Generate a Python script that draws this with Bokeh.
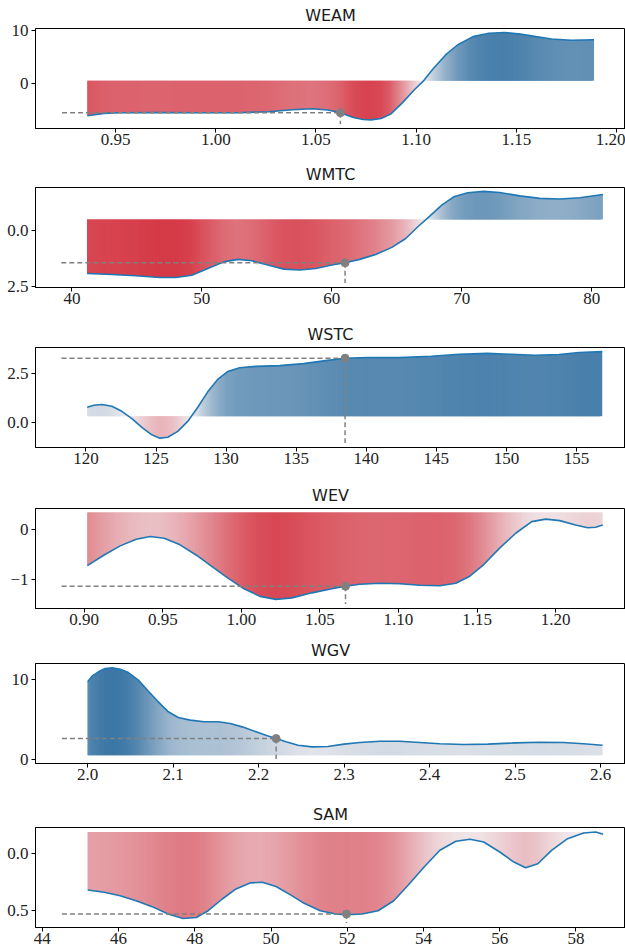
import numpy as np
from bokeh.plotting import figure
from bokeh.layouts import column
from bokeh.models import Range1d, FixedTicker, ColumnDataSource
from bokeh.embed import file_html
from bokeh.resources import INLINE

# ---------------- data ----------------
titles = ["WEAM", "WMTC", "WSTC", "WEV", "WGV", "SAM"]

weam_x = [0.9359, 0.9441, 0.952, 0.9716, 0.9912, 1.0108, 1.0265, 1.0382, 1.048, 1.0559, 1.0622, 1.0686,
          1.0735, 1.0775, 1.0825, 1.0873, 1.0931, 1.099, 1.1039, 1.1088, 1.1147, 1.1206, 1.1284, 1.1363,
          1.1441, 1.152, 1.1598, 1.1676, 1.1775, 1.1888]
weam_y = [-6.22, -5.77, -5.64, -5.58, -5.64, -5.64, -5.45, -5.06, -4.87, -5.13, -5.64, -6.54,
          -6.92, -7.0, -6.75, -5.9, -3.75, -1.3, 0.55, 2.9, 5.4, 7.3, 8.9, 9.55,
          9.68, 9.4, 8.9, 8.45, 8.2, 8.3]

wmtc_x = [41.17, 43.08, 44.92, 46.77, 48.0, 49.23, 50.46, 51.69, 52.77, 53.85, 55.08, 56.31, 57.54, 58.77,
          60.0, 61.02, 62.15, 63.38, 64.62, 65.69, 66.62, 67.54, 68.46, 69.38, 70.46, 71.69, 72.92, 74.46,
          76.0, 77.54, 79.08, 80.86]
wmtc_y = [-1.91, -1.96, -2.01, -2.09, -2.09, -1.99, -1.69, -1.40, -1.29, -1.35, -1.54, -1.72, -1.76, -1.69,
          -1.54, -1.44, -1.29, -1.07, -0.76, -0.37, 0.15, 0.62, 1.10, 1.47, 1.65, 1.71, 1.66, 1.51,
          1.40, 1.37, 1.43, 1.57]

wstc_x = [120.09, 120.57, 121.14, 121.85, 122.56, 123.28, 123.99, 124.70, 125.27, 125.84, 126.55, 127.26,
          127.98, 128.69, 129.40, 130.11, 130.97, 132.11, 133.82, 135.53, 137.24, 138.49, 140.09, 142.36,
          144.64, 146.64, 148.63, 150.34, 152.05, 153.76, 155.19, 156.84]
wstc_y = [0.76, 0.86, 0.90, 0.81, 0.55, 0.17, -0.28, -0.66, -0.83, -0.78, -0.48, 0.03,
          0.76, 1.55, 2.19, 2.59, 2.79, 2.86, 2.90, 3.0, 3.17, 3.28, 3.31, 3.31,
          3.38, 3.48, 3.53, 3.48, 3.43, 3.47, 3.57, 3.62]

wev_x = [0.902, 0.9127, 0.9229, 0.9331, 0.942, 0.9509, 0.961, 0.9712, 0.9814, 0.9915, 1.0017, 1.0119,
         1.022, 1.0322, 1.0449, 1.0576, 1.0663, 1.0754, 1.0882, 1.1009, 1.1136, 1.1263, 1.1365, 1.1454,
         1.1543, 1.1644, 1.1746, 1.1848, 1.1937, 1.2026, 1.2127, 1.2204, 1.2255, 1.23]
wev_y = [-0.72, -0.51, -0.33, -0.20, -0.145, -0.18, -0.31, -0.51, -0.74, -0.97, -1.18, -1.33,
         -1.39, -1.36, -1.26, -1.18, -1.13, -1.09, -1.07, -1.08, -1.11, -1.12, -1.07, -0.93,
         -0.70, -0.375, -0.08, 0.15, 0.20, 0.17, 0.085, 0.03, 0.04, 0.085]

wgv_x = [2.0, 2.0056, 2.0126, 2.0205, 2.0289, 2.0383, 2.0476, 2.0593, 2.071, 2.0826, 2.0943, 2.106,
         2.12, 2.1363, 2.1527, 2.1667, 2.1807, 2.197, 2.2101, 2.2204, 2.232, 2.246, 2.2624, 2.281,
         2.2997, 2.3184, 2.3417, 2.3651, 2.3884, 2.4118, 2.4398, 2.4678, 2.5005, 2.5285, 2.5565,
         2.5798, 2.6022]
wgv_y = [9.67, 10.42, 10.92, 11.33, 11.42, 11.25, 10.83, 9.88, 8.5, 7.17, 5.92, 5.21,
         4.88, 4.67, 4.67, 4.46, 4.04, 3.42, 2.92, 2.58, 2.17, 1.75, 1.54, 1.58,
         1.88, 2.08, 2.25, 2.25, 2.08, 1.92, 1.83, 1.88, 2.04, 2.125, 2.08,
         1.92, 1.75]

sam_x = [45.19, 45.62, 46.04, 46.46, 46.88, 47.30, 47.69, 48.04, 48.35, 48.72, 49.08, 49.45, 49.77,
         50.13, 50.50, 50.87, 51.29, 51.70, 52.0, 52.39, 52.81, 53.22, 53.59, 54.01, 54.43, 54.85,
         55.22, 55.58, 56.0, 56.37, 56.68, 57.0, 57.36, 57.78, 58.20, 58.52, 58.71]
sam_y = [-0.324, -0.344, -0.374, -0.418, -0.47, -0.535, -0.574, -0.565, -0.506, -0.403, -0.315, -0.262,
         -0.256, -0.294, -0.365, -0.441, -0.506, -0.535, -0.541, -0.535, -0.506, -0.418, -0.285,
         -0.124, 0.024, 0.103, 0.121, 0.097, 0.009, -0.079, -0.129, -0.094, 0.024, 0.126, 0.176,
         0.185, 0.165]

# baseline (reference level of the filled band) for each panel
baselines = [0.45, 0.47, 0.29, 0.33, 0.5, 0.185]
# highlighted point (feature value, effect) for each panel
marker_x = [1.0622, 61.02, 138.49, 1.0663, 2.2204, 51.98]
marker_y = [-5.64, -1.44, 3.28, -1.13, 2.58, -0.535]

# axis limits
x_lims = [(0.910, 1.2045), (37.2, 82.6), (116.4, 158.5), (0.869, 1.2445), (1.939, 2.629), (43.82, 59.30)]
y_lims = [(-8.65, 10.45), (-2.53, 1.88), (-1.31, 3.83), (-1.57, 0.41), (-0.54, 11.96), (-0.653, 0.224)]

# tick values and labels
x_ticks = [[0.95, 1.0, 1.05, 1.1, 1.15, 1.2],
           [40, 50, 60, 70, 80],
           [120, 125, 130, 135, 140, 145, 150, 155],
           [0.9, 0.95, 1.0, 1.05, 1.1, 1.15, 1.2],
           [2.0, 2.1, 2.2, 2.3, 2.4, 2.5, 2.6],
           [44, 46, 48, 50, 52, 54, 56, 58]]
x_labels = [["0.95", "1.00", "1.05", "1.10", "1.15", "1.20"],
            ["40", "50", "60", "70", "80"],
            ["120", "125", "130", "135", "140", "145", "150", "155"],
            ["0.90", "0.95", "1.00", "1.05", "1.10", "1.15", "1.20"],
            ["2.0", "2.1", "2.2", "2.3", "2.4", "2.5", "2.6"],
            ["44", "46", "48", "50", "52", "54", "56", "58"]]
y_ticks = [[0, 10], [-2.5, 0.0], [0.0, 2.5], [-1, 0], [0, 10], [-0.5, 0.0]]
y_labels = [["0", "10"], ["2.5", "0.0"], ["0.0", "2.5"], ["\u22121", "0"], ["0", "10"], ["0.5", "0.0"]]

# colour scales (effect magnitude giving full colour) per panel, below / above the baseline
color_scale_neg = [8.0, 2.6, 3.6, 1.9, 2.0, 1.2]
color_scale_pos = [10.0, 1.7, 3.6, 1.9, 11.0, 1.2]

xs_all = [weam_x, wmtc_x, wstc_x, wev_x, wgv_x, sam_x]
ys_all = [weam_y, wmtc_y, wstc_y, wev_y, wgv_y, sam_y]

# ---------------- styling ----------------
RED = np.array([213, 55, 68], float)
MID = np.array([241, 238, 240], float)
BLUE = np.array([58, 118, 165], float)
TICK_FONT = "'Liberation Serif', 'Times New Roman', serif"


def cmap(d, sneg, spos):
    if d < 0:
        t = min(-d / sneg, 1.0)
        c = MID + t * (RED - MID)
    else:
        t = min(d / spos, 1.0)
        c = MID + t * (BLUE - MID)
    c = np.clip(np.round(c), 0, 255).astype(int)
    return "#%02x%02x%02x" % tuple(c)


W = 625
heights = [159, 160, 161, 155, 164, 150]
TOP = 28
FRAME_H = 100
figs = []
for i in range(6):
    x = np.asarray(xs_all[i], float)
    y = np.asarray(ys_all[i], float)
    base = baselines[i]
    h = heights[i]
    p = figure(width=W, height=h, output_backend="svg", toolbar_location=None,
               x_range=Range1d(*x_lims[i]), y_range=Range1d(*y_lims[i]),
               min_border_left=35, min_border_right=0, min_border_top=TOP,
               min_border_bottom=max(h - TOP - FRAME_H, 22),
               background_fill_color="white", border_fill_color="white")
    p.title.text = titles[i]
    p.title.align = "center"
    p.title.text_font = "DejaVu Sans"
    p.title.text_font_size = "16px"
    p.title.text_font_style = "normal"
    p.title.text_color = "#1a1a1a"
    p.title.standoff = 7

    # gradient band between curve and baseline: overlapping slices drawn left to right
    n_sub = 10
    sx_all, sy_all = [x[0]], [y[0]]
    for k in range(len(x) - 1):
        fr = np.linspace(0, 1, n_sub + 1)[1:]
        sx_all.extend(list(x[k] + fr * (x[k + 1] - x[k])))
        sy_all.extend(list(y[k] + fr * (y[k + 1] - y[k])))
    sx_all = np.array(sx_all)
    sy_all = np.array(sy_all)
    pxs, pys, cols = [], [], []
    m = len(sx_all)
    for j in range(m - 1):
        a = max(j - 1, 0)
        b = j + 1
        seg_x = list(sx_all[a:b + 1])
        seg_y = list(sy_all[a:b + 1])
        pxs.append([seg_x[0]] + seg_x + [seg_x[-1]])
        pys.append([base] + seg_y + [base])
        cols.append(cmap(0.5 * (sy_all[j] + sy_all[j + 1]) - base,
                         color_scale_neg[i], color_scale_pos[i]))
    src = ColumnDataSource(dict(xs=pxs, ys=pys, c=cols))
    p.patches("xs", "ys", source=src, fill_color="c", line_color=None)

    p.line(x, y, line_color="#1f77b4", line_width=1.6)

    # reference guides to the highlighted point
    y0, y1 = y_lims[i]
    hx_start = x.min() - 0.05 * (x.max() - x.min())
    p.line([hx_start, marker_x[i]], [marker_y[i], marker_y[i]], line_color="gray",
           line_width=1.5, line_dash="5 3")
    p.line([marker_x[i], marker_x[i]], [marker_y[i], y0 + 0.045 * (y1 - y0)], line_color="gray",
           line_width=1.5, line_dash="5 3")
    p.scatter([marker_x[i]], [marker_y[i]], size=8, fill_color="gray", line_color="gray")

    p.xgrid.visible = False
    p.ygrid.visible = False
    p.outline_line_color = "black"
    p.outline_line_width = 1
    p.outline_line_alpha = 1

    p.xaxis.ticker = FixedTicker(ticks=x_ticks[i])
    p.xaxis.major_label_overrides = {float(v): s for v, s in zip(x_ticks[i], x_labels[i])}
    p.yaxis.ticker = FixedTicker(ticks=y_ticks[i])
    p.yaxis.major_label_overrides = {float(v): s for v, s in zip(y_ticks[i], y_labels[i])}
    for ax in (p.xaxis[0], p.yaxis[0]):
        ax.major_label_text_font = TICK_FONT
        ax.major_label_text_font_size = "17px"
        ax.major_label_text_color = "#222222"
        ax.minor_tick_line_color = None
        ax.major_tick_in = 0
        ax.major_tick_out = 4
        ax.major_tick_line_color = "black"
        ax.axis_line_color = "black"
    p.xaxis[0].major_label_standoff = 1
    p.yaxis[0].major_label_standoff = 3
    figs.append(p)

layout = column(*figs, spacing=0)
open("out.html", "w").write(file_html(layout, INLINE))
